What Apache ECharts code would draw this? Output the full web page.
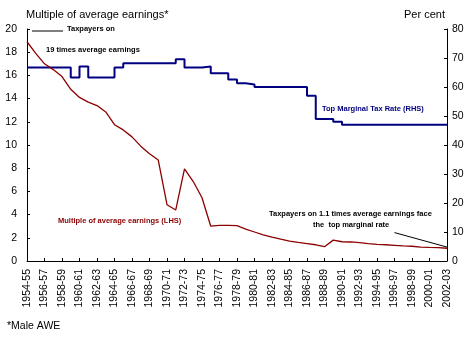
<!DOCTYPE html>
<html>
<head>
<meta charset="utf-8">
<script src="https://cdn.jsdelivr.net/npm/echarts@6/dist/echarts.min.js"></script>
<style>
  html, body { margin: 0; padding: 0; background: #fff; }
  #chart { width: 473px; height: 340px; }
</style>
</head>
<body>
<div id="chart"></div>
<script>
// Financial years 1954-55 to 2002-03
const years = [];
for (let y = 1954; y <= 2002; y++) {
  years.push(y + '-' + String((y + 1) % 100).padStart(2, '0'));
}

// Income at which the top marginal rate starts, as a multiple of male average weekly earnings (LHS)
const multipleOfAwe = [
  18.9, 17.9, 17.0, 16.5, 15.9, 14.8, 14.1, 13.7, 13.4, 12.85,
  11.75, 11.3, 10.7, 9.9, 9.25, 8.7, 4.85, 4.4, 7.95, 6.85,
  5.45, 3.0, 3.07, 3.07, 3.05, 2.75, 2.5, 2.25, 2.05, 1.88,
  1.72, 1.6, 1.5, 1.4, 1.23, 1.8, 1.66, 1.64, 1.58, 1.5,
  1.44, 1.4, 1.35, 1.3, 1.27, 1.2, 1.17, 1.15, 1.1
];

// Top marginal tax rate, per cent (RHS)
const topMarginalRate = [
  66.7, 66.7, 66.7, 66.7, 66.7, 63.3, 67.1, 63.3, 63.3, 63.3,
  66.7, 68.2, 68.2, 68.2, 68.2, 68.2, 68.2, 69.6, 66.7, 66.7,
  67.1, 64.7, 64.7, 62.6, 61.3, 60.9, 60, 60, 60, 60,
  60, 60, 57, 49, 49, 48, 47, 47, 47, 47,
  47, 47, 47, 47, 47, 47, 47, 47, 47
];

const leftTicks = { min: 0, max: 20, interval: 2 };
const rightTicks = { min: 0, max: 80, interval: 10 };

const FONT = 'Liberation Sans';
const RED = '#8b0000';
const NAVY = '#000080';

const chart = echarts.init(document.getElementById('chart'), null, { renderer: 'canvas' });

const axisText = { color: '#000', fontFamily: FONT, fontSize: 10.5 };

chart.setOption({
  animation: false,
  backgroundColor: '#fff',
  grid: { left: 27, right: 26, top: 29, bottom: 79, containLabel: false },
  xAxis: {
    type: 'category',
    data: years,
    boundaryGap: false,
    axisLine: { lineStyle: { color: '#000', width: 1 } },
    axisTick: { inside: true, length: 3, interval: 1, lineStyle: { color: '#000' } },
    axisLabel: Object.assign({ rotate: 90, interval: 1, margin: 8 }, axisText),
    splitLine: { show: false }
  },
  yAxis: [
    {
      type: 'value',
      min: leftTicks.min, max: leftTicks.max, interval: leftTicks.interval,
      axisLine: { show: true, lineStyle: { color: '#000', width: 1 } },
      axisTick: { show: true, inside: true, length: 3, lineStyle: { color: '#000' } },
      axisLabel: Object.assign({ margin: 10 }, axisText),
      splitLine: { show: false }
    },
    {
      type: 'value',
      position: 'right',
      min: rightTicks.min, max: rightTicks.max, interval: rightTicks.interval,
      axisLine: { show: true, lineStyle: { color: '#000', width: 1 } },
      axisTick: { show: true, inside: true, length: 3, lineStyle: { color: '#000' } },
      axisLabel: Object.assign({ margin: 5 }, axisText),
      splitLine: { show: false }
    }
  ],
  series: [
    {
      name: 'Top Marginal Tax Rate (RHS)',
      type: 'line',
      yAxisIndex: 1,
      step: 'end',
      data: topMarginalRate,
      symbol: 'none',
      lineStyle: { color: NAVY, width: 2 },
      z: 3
    },
    {
      name: 'Multiple of average earnings (LHS)',
      type: 'line',
      yAxisIndex: 0,
      data: multipleOfAwe,
      symbol: 'none',
      lineStyle: { color: RED, width: 1.3 },
      z: 4,
      markLine: {
        silent: true,
        symbol: ['none', 'none'],
        label: { show: false },
        lineStyle: { color: '#000', width: 1, type: 'solid' },
        data: [
          [{ coord: [42, 2.45] }, { coord: [48, 1.2] }]
        ]
      }
    }
  ],
  graphic: [
    { type: 'text', left: 26, top: 9, style: { text: 'Multiple of average earnings*', fill: '#000', font: '11px "' + FONT + '"' } },
    { type: 'text', left: 404, top: 9, style: { text: 'Per cent', fill: '#000', font: '11px "' + FONT + '"' } },
    { type: 'text', left: 7, top: 321, style: { text: '*Male AWE', fill: '#000', font: '10.5px "' + FONT + '"' } },
    { type: 'line', shape: { x1: 32, y1: 31, x2: 63, y2: 31 }, style: { stroke: '#000', lineWidth: 1 } },
    { type: 'text', left: 67, top: 25, style: { text: 'Taxpayers on', fill: '#000', font: 'bold 7.5px "' + FONT + '"' } },
    { type: 'text', left: 46, top: 46, style: { text: '19 times average earnings', fill: '#000', font: 'bold 7.5px "' + FONT + '"' } },
    { type: 'text', left: 322, top: 105, style: { text: 'Top Marginal Tax Rate (RHS)', fill: NAVY, font: 'bold 7.5px "' + FONT + '"' } },
    { type: 'text', left: 58, top: 217, style: { text: 'Multiple of average earnings (LHS)', fill: RED, font: 'bold 7.5px "' + FONT + '"' } },
    { type: 'text', left: 269, top: 210, style: { text: 'Taxpayers on 1.1 times average earnings face', fill: '#000', font: 'bold 7.5px "' + FONT + '"' } },
    { type: 'text', left: 313, top: 221, style: { text: 'the  top marginal rate', fill: '#000', font: 'bold 7.5px "' + FONT + '"' } }
  ]
});
</script>
</body>
</html>
